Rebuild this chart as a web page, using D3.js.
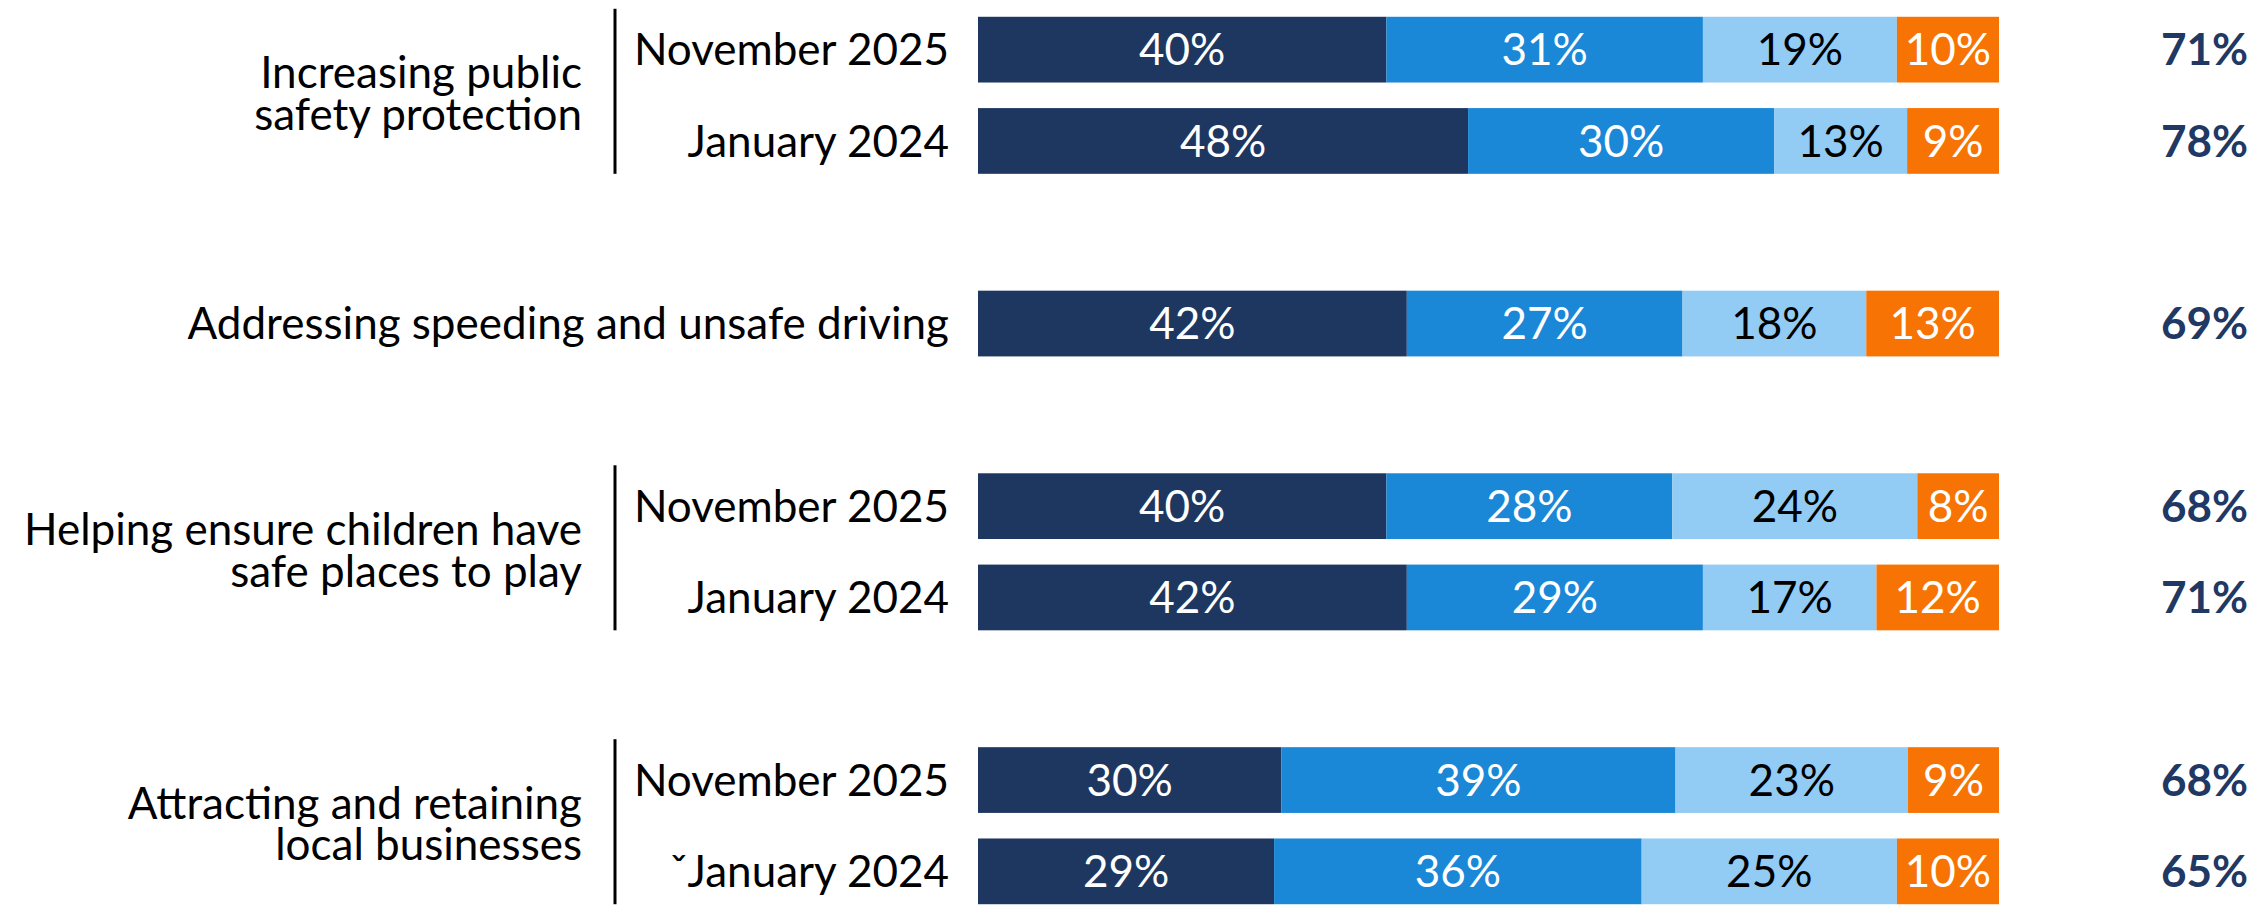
<!DOCTYPE html>
<html>
<head>
<meta charset="utf-8">
<script src="https://cdn.jsdelivr.net/npm/d3@7"></script>
<style>
  html, body { margin: 0; padding: 0; background: #fff; }
  svg { display: block; }
  text { font-family: Lato, "Open Sans", sans-serif; }
</style>
</head>
<body>
<div id="chart"></div>
<script>
// rows, top to bottom (slot = position on the band scale, gaps between groups are empty slots)
const slots = ['g1a', 'g1b', 'gap1', 'g2', 'gap2', 'g3a', 'g3b', 'gap3', 'g4a', 'g4b'];
const rowSlots = ['g1a', 'g1b', 'g2', 'g3a', 'g3b', 'g4a', 'g4b'];
const rowLabels = ['November 2025', 'January 2024', 'Addressing speeding and unsafe driving',
                   'November 2025', 'January 2024', 'November 2025', '\u02C7January 2024'];

// groups with a two-line label and a divider line
const groupLabels = [
  ['Increasing public', 'safety protection'],
  ['Helping ensure children have', 'safe places to play'],
  ['Attracting and retaining', 'local businesses']
];
const groupSlots = [['g1a', 'g1b'], ['g3a', 'g3b'], ['g4a', 'g4b']];

// segment values (left to right)
const seriesKeys = ['s1', 's2', 's3', 's4'];
const s1 = [40, 48, 42, 40, 42, 30, 29];
const s2 = [31, 30, 27, 28, 29, 39, 36];
const s3 = [19, 13, 18, 24, 17, 23, 25];
const s4 = [10, 9, 13, 8, 12, 9, 10];
const net = [71, 78, 69, 68, 71, 68, 65];

const colors = ['#1e3761', '#1a87d7', '#92cbf4', '#f77404'];
const labelColors = ['#fff', '#fff', '#000', '#fff'];

const width = 2255, height = 906;
const fontSize = 44;

const rows = rowSlots.map((slot, i) => ({
  slot: slot, label: rowLabels[i], net: net[i],
  s1: s1[i], s2: s2[i], s3: s3[i], s4: s4[i]
}));

const svg = d3.select('#chart').append('svg')
  .attr('width', width)
  .attr('height', height);

const y = d3.scaleBand()
  .domain(slots)
  .range([4, 917])
  .paddingInner(0.28)
  .paddingOuter(0.14);

const x = d3.scaleLinear().domain([0, 100]).range([978, 1999]);

const stack = d3.stack().keys(seriesKeys);
const stacked = stack(rows);

// each row is scaled to its own total so every bar ends at the same place
const totalOf = d => seriesKeys.reduce((a, k) => a + d[k], 0);
const xs = (v, d) => x(v * 100 / totalOf(d));

const layer = svg.selectAll('.layer')
  .data(stacked)
  .enter().append('g')
  .attr('class', 'layer')
  .attr('fill', (d, i) => colors[i]);

layer.selectAll('rect')
  .data(d => d)
  .enter().append('rect')
  .attr('x', d => xs(d[0], d.data))
  .attr('y', d => y(d.data.slot))
  .attr('width', d => xs(d[1], d.data) - xs(d[0], d.data))
  .attr('height', y.bandwidth());

layer.each(function(series, i) {
  d3.select(this).selectAll('text')
    .data(series)
    .enter().append('text')
    .attr('x', d => (xs(d[0], d.data) + xs(d[1], d.data)) / 2)
    .attr('y', d => y(d.data.slot) + y.bandwidth() / 2)
    .attr('dy', '0.36em')
    .attr('text-anchor', 'middle')
    .attr('fill', labelColors[i])
    .style('font-size', fontSize + 'px')
    .text(d => (d[1] - d[0]) + '%');
});

// row labels
svg.selectAll('.row-label')
  .data(rows)
  .enter().append('text')
  .attr('class', 'row-label')
  .attr('x', 949)
  .attr('y', d => y(d.slot) + y.bandwidth() / 2)
  .attr('dy', '0.36em')
  .attr('text-anchor', 'end')
  .attr('fill', '#000')
  .style('font-size', fontSize + 'px')
  .text(d => d.label);

// net column
svg.selectAll('.net')
  .data(rows)
  .enter().append('text')
  .attr('class', 'net')
  .attr('x', 2248)
  .attr('y', d => y(d.slot) + y.bandwidth() / 2)
  .attr('dy', '0.36em')
  .attr('text-anchor', 'end')
  .attr('fill', '#1f3864')
  .style('font-size', fontSize + 'px')
  .style('font-weight', 'bold')
  .text(d => d.net + '%');

// group labels + divider lines
groupSlots.forEach((gs, i) => {
  const top = y(gs[0]);
  const bottom = y(gs[1]) + y.bandwidth();
  const mid = (top + bottom) / 2;

  svg.append('line')
    .attr('x1', 615).attr('x2', 615)
    .attr('y1', top - 8).attr('y2', bottom)
    .attr('stroke', '#000')
    .attr('stroke-width', 3);

  const t = svg.append('text')
    .attr('x', 582)
    .attr('y', mid)
    .attr('text-anchor', 'end')
    .attr('fill', '#000')
    .style('font-size', fontSize + 'px');

  groupLabels[i].forEach((line, j) => {
    t.append('tspan')
      .attr('x', 582)
      .attr('dy', j === 0 ? '-0.16em' : '0.95em')
      .text(line);
  });
});
</script>
</body>
</html>
